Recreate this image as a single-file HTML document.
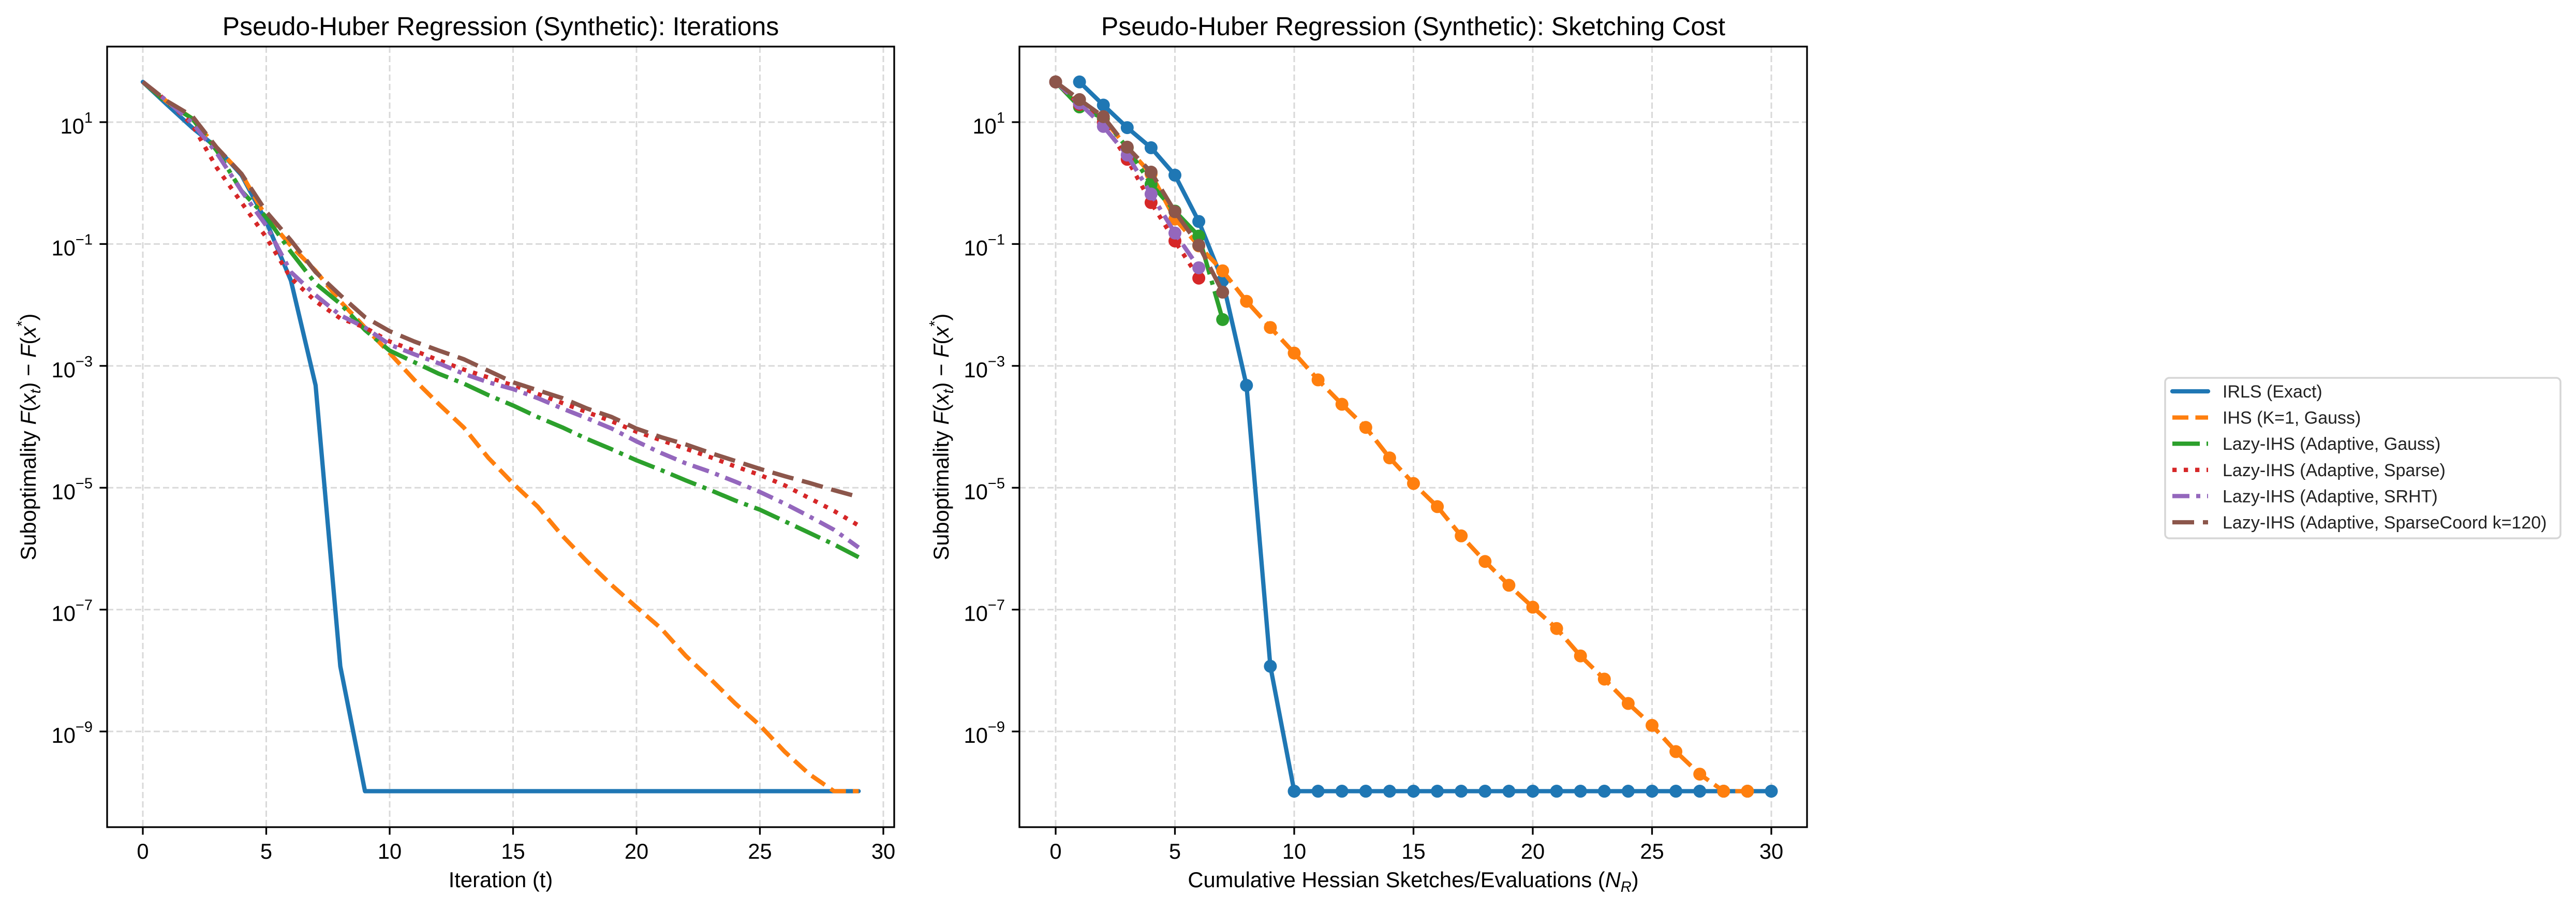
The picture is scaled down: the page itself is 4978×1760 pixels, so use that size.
<!DOCTYPE html>
<html><head><meta charset="utf-8"><style>
html,body{margin:0;padding:0;background:#fff;}
svg text{font-family:"Liberation Sans",Arial,sans-serif;}
</style></head><body>
<svg id="chart" width="4978" height="1755" viewBox="0 0 4978 1755" xmlns="http://www.w3.org/2000/svg"></svg>
<script>
// ---- data (log10 of suboptimality) ----
const iterT = [0,1,2,3,4,5,6,7,8,9,10,11,12,13,14,15,16,17,18,19,20,21,22,23,24,25,26,27,28,29];
const leftIRLS = [1.66,1.28,0.91,0.58,0.13,-0.63,-1.60,-3.32,-7.93,-9.98,-9.98,-9.98,-9.98,-9.98,-9.98,-9.98,-9.98,-9.98,-9.98,-9.98,-9.98,-9.98,-9.98,-9.98,-9.98,-9.98,-9.98,-9.98,-9.98,-9.98];
const leftIHS = [1.66,1.33,1.06,0.58,0.15,-0.56,-1.03,-1.44,-1.94,-2.37,-2.79,-3.23,-3.63,-4.01,-4.51,-4.93,-5.31,-5.79,-6.21,-6.6,-6.96,-7.31,-7.76,-8.14,-8.54,-8.9,-9.33,-9.7,-9.98,-9.98];
const leftGauss = [1.66,1.31,1.06,0.53,-0.13,-0.56,-1.13,-1.65,-1.98,-2.41,-2.75,-2.94,-3.13,-3.29,-3.48,-3.65,-3.84,-4.01,-4.20,-4.37,-4.55,-4.71,-4.88,-5.04,-5.21,-5.36,-5.55,-5.74,-5.93,-6.14];
const leftSparse = [1.66,1.34,0.96,0.25,-0.32,-0.89,-1.56,-1.94,-2.22,-2.37,-2.60,-2.75,-2.91,-3.06,-3.19,-3.32,-3.46,-3.61,-3.76,-3.91,-4.08,-4.22,-4.36,-4.50,-4.65,-4.79,-4.96,-5.17,-5.38,-5.62];
const leftSRHT = [1.66,1.34,0.99,0.49,-0.13,-0.70,-1.46,-1.84,-2.17,-2.37,-2.65,-2.81,-2.96,-3.13,-3.27,-3.38,-3.53,-3.70,-3.86,-4.03,-4.24,-4.43,-4.60,-4.74,-4.90,-5.07,-5.26,-5.47,-5.69,-5.98];
const leftCoord = [1.66,1.34,1.10,0.58,0.15,-0.47,-0.94,-1.46,-1.84,-2.20,-2.43,-2.60,-2.75,-2.89,-3.08,-3.27,-3.40,-3.53,-3.70,-3.84,-4.03,-4.17,-4.29,-4.43,-4.56,-4.69,-4.81,-4.92,-5.04,-5.15];

const rightIRLSx = [1,2,3,4,5,6,7,8,9,10,11,12,13,14,15,16,17,18,19,20,21,22,23,24,25,26,27,28,29,30];
const rightIRLS = [1.66,1.28,0.91,0.58,0.13,-0.63,-1.60,-3.32,-7.93,-9.98,-9.98,-9.98,-9.98,-9.98,-9.98,-9.98,-9.98,-9.98,-9.98,-9.98,-9.98,-9.98,-9.98,-9.98,-9.98,-9.98,-9.98,-9.98,-9.98,-9.98];
const rightIHSx = [0,1,2,3,4,5,6,7,8,9,10,11,12,13,14,15,16,17,18,19,20,21,22,23,24,25,26,27,28,29];
const rightIHS = [1.66,1.31,1.06,0.58,0.15,-0.59,-1.03,-1.44,-1.94,-2.37,-2.79,-3.23,-3.63,-4.01,-4.51,-4.93,-5.31,-5.79,-6.21,-6.6,-6.96,-7.31,-7.76,-8.14,-8.54,-8.9,-9.33,-9.7,-9.98,-9.98];
const rightGaussX = [0,1,2,3,4,5,6,7];
const rightGauss = [1.66,1.25,1.06,0.58,-0.02,-0.46,-0.87,-2.24];
const rightSparseX = [0,1,2,3,4,5,6];
const rightSparse = [1.66,1.29,0.99,0.39,-0.32,-0.95,-1.56];
const rightSRHTx = [0,1,2,3,4,5,6];
const rightSRHT = [1.66,1.31,0.93,0.46,-0.18,-0.82,-1.39];
const rightCoordX = [0,1,2,3,4,5,6,7];
const rightCoord = [1.66,1.37,1.09,0.59,0.18,-0.47,-1.02,-1.79];

const xTicks = [0,5,10,15,20,25,30];
const yTickExps = [1,-1,-3,-5,-7,-9];
const legendLabels = ["IRLS (Exact)","IHS (K=1, Gauss)","Lazy-IHS (Adaptive, Gauss)","Lazy-IHS (Adaptive, Sparse)","Lazy-IHS (Adaptive, SRHT)","Lazy-IHS (Adaptive, SparseCoord k=120)"];

// ---- styles ----
const colors = ["#1f77b4","#ff7f0e","#2ca02c","#d62728","#9467bd","#8c564b"];
const dashes = ["", "31 13.5", "53 13 8 13", "8.3 13.7", "33 13 8 13", "42 17"];
const NS = "http://www.w3.org/2000/svg";
const svg = document.getElementById('chart');
function mk(tag, attrs, parent){ const e=document.createElementNS(NS,tag); for(const k in attrs) e.setAttribute(k,attrs[k]); (parent||svg).appendChild(e); return e; }

const yTop = 90, yBot = 1598, yMax = 2.24, yMin = -10.57;
function yPx(v){ return yTop + (yMax - v) / (yMax - yMin) * (yBot - yTop); }

function makeAxes(cfg){
  const g = mk('g',{});
  
  
  const xPx = v => cfg.x0px + (v - 0) * cfg.unit;
  xTicks.forEach(t=>{ const X=xPx(t);
    const l=mk('line',{x1:X,x2:X,y1:yTop,y2:yBot,stroke:'#d9d9d9','stroke-width':3,'stroke-dasharray':'12 6'},g);
      });
  yTickExps.forEach(e=>{ const Y=yPx(e);
    const l=mk('line',{x1:cfg.left,x2:cfg.right,y1:Y,y2:Y,stroke:'#d9d9d9','stroke-width':3,'stroke-dasharray':'12 6'},g);
      });
  cfg.series.forEach((s,i)=>{
    const pts = s.x.map((xv,j)=>xPx(xv).toFixed(1)+','+yPx(s.y[j]).toFixed(1)).join(' ');
    const pl = mk('polyline',{points:pts,fill:'none',stroke:colors[s.c],'stroke-width':8.3,'stroke-dasharray':dashes[s.c],'stroke-linejoin':'round','stroke-linecap':s.c===0?'round':'butt'},g);
    
    
    if(cfg.markers){
      s.x.forEach((xv,j)=>{ const c=mk('circle',{cx:xPx(xv),cy:yPx(s.y[j]),r:12.5,fill:colors[s.c]},g);
        
         });
    }
  });
  const fr = mk('rect',{x:cfg.left,y:yTop,width:cfg.right-cfg.left,height:yBot-yTop,fill:'none',stroke:'#000','stroke-width':3.3},g);
   
  xTicks.forEach(t=>{ const X=xPx(t);
    const tk=mk('line',{x1:X,x2:X,y1:yBot,y2:yBot+14.6,stroke:'#000','stroke-width':3.3},g);
     
    const tx=mk('text',{x:X,y:1659,'font-size':41.7,'text-anchor':'middle',fill:'#000'},g);
    tx.textContent=String(t);
      });
  yTickExps.forEach(e=>{ const Y=yPx(e);
    const tk=mk('line',{x1:cfg.left-14.6,x2:cfg.left,y1:Y,y2:Y,stroke:'#000','stroke-width':3.3},g);
     
    const tx=mk('text',{x:cfg.left-28,y:Y+22,'font-size':41.7,'text-anchor':'end',fill:'#000'},g);
    const a=document.createElementNS(NS,'tspan'); a.textContent='10'; tx.appendChild(a);
    const b=document.createElementNS(NS,'tspan'); b.setAttribute('dy','-21'); b.setAttribute('font-size','29');
    b.textContent=(e<0?'\u2212':'')+Math.abs(e); tx.appendChild(b);
      });
  const ti=mk('text',{x:(cfg.left+cfg.right)/2,y:68,'font-size':50,'text-anchor':'middle',fill:'#000'},g);
  ti.textContent=cfg.title;  
  const xl=mk('text',{x:(cfg.left+cfg.right)/2,y:1714,'font-size':41.7,'text-anchor':'middle',fill:'#000'},g);
  xl.innerHTML=cfg.xlabel;  
  const yc=(yTop+yBot)/2;
  const yl=mk('text',{x:cfg.ylabelX,y:yc,'font-size':41.7,'text-anchor':'middle',fill:'#000',transform:`rotate(-90 ${cfg.ylabelX} ${yc})`},g);
  yl.innerHTML='Suboptimality <tspan font-style="italic">F</tspan>(<tspan font-style="italic">x</tspan><tspan font-style="italic" font-size="29" dy="9">t</tspan><tspan dy="-9">) \u2212 </tspan><tspan font-style="italic">F</tspan>(<tspan font-style="italic">x</tspan><tspan font-size="29" dy="-17">*</tspan><tspan dy="17">)</tspan>';
   
}

makeAxes({name:'iterations-plot',left:207,right:1728,x0px:276,unit:47.7,ylabelX:69,markers:false,
  title:'Pseudo-Huber Regression (Synthetic): Iterations', xlabel:'Iteration (t)',
  series:[
    {name:'irls-line',c:0,x:iterT,y:leftIRLS},
    {name:'ihs-line',c:1,x:iterT,y:leftIHS},
    {name:'lazy-gauss-line',c:2,x:iterT,y:leftGauss},
    {name:'lazy-sparse-line',c:3,x:iterT,y:leftSparse},
    {name:'lazy-srht-line',c:4,x:iterT,y:leftSRHT},
    {name:'lazy-sparsecoord-line',c:5,x:iterT,y:leftCoord}]});

makeAxes({name:'sketching-cost-plot',left:1970,right:3492,x0px:2040,unit:46.1,ylabelX:1833,markers:true,
  title:'Pseudo-Huber Regression (Synthetic): Sketching Cost',
  xlabel:'Cumulative Hessian Sketches/Evaluations (<tspan font-style="italic">N</tspan><tspan font-style="italic" font-size="29" dy="9">R</tspan><tspan dy="-9">)</tspan>',
  series:[
    {name:'irls-line',c:0,x:rightIRLSx,y:rightIRLS},
    {name:'ihs-line',c:1,x:rightIHSx,y:rightIHS},
    {name:'lazy-gauss-line',c:2,x:rightGaussX,y:rightGauss},
    {name:'lazy-sparse-line',c:3,x:rightSparseX,y:rightSparse},
    {name:'lazy-srht-line',c:4,x:rightSRHTx,y:rightSRHT},
    {name:'lazy-sparsecoord-line',c:5,x:rightCoordX,y:rightCoord}]});

const lg = mk('g',{});


const lbox = mk('rect',{x:4184,y:730,width:764,height:310,rx:8,fill:'#fff',stroke:'#d6d6d6','stroke-width':3.5},lg);
 
legendLabels.forEach((lab,i)=>{
  const Y = 756 + i*50.6;
  const ln = mk('line',{x1:4198,x2:4267,y1:Y,y2:Y,stroke:colors[i],'stroke-width':8.3,'stroke-dasharray':dashes[i],'stroke-linecap':i===0?'round':'butt'},lg);
   
  const t = mk('text',{x:4295,y:Y+12,'font-size':34,fill:'#222'},lg);
  t.textContent = lab;
   
});
</script>
</body></html>
